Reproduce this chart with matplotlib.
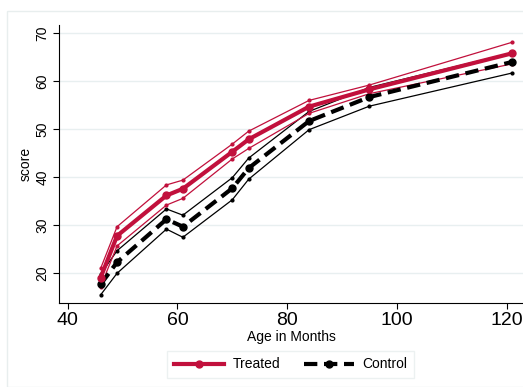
import matplotlib.pyplot as plt
from matplotlib.patches import Rectangle

plt.rcParams['font.family'] = ['Liberation Sans', 'DejaVu Sans']

# Data
age = [46, 49, 58, 61, 70, 73, 84, 95, 121]
treated = [19.1, 27.8, 36.2, 37.6, 45.3, 47.9, 54.7, 58.3, 65.8]
treated_hi = [21.0, 29.7, 38.4, 39.4, 46.9, 49.6, 56.0, 59.2, 68.1]
treated_lo = [17.2, 25.7, 34.2, 35.6, 43.8, 46.0, 53.3, 57.4, 63.6]
control = [17.7, 22.3, 31.25, 29.7, 37.7, 41.9, 51.7, 56.7, 64.0]
control_hi = [19.8, 24.7, 33.4, 32.1, 39.9, 44.0, 53.7, 58.7, 65.9]
control_lo = [15.5, 20.0, 29.2, 27.5, 35.3, 39.6, 49.9, 54.8, 61.7]

red = '#c1103c'

fig = plt.figure(figsize=(5.23, 3.87), dpi=100)
# light outer frame
fig.patches.append(Rectangle((7/523, 0), 1, 1 - 11/387, transform=fig.transFigure,
                             fill=False, edgecolor='#e8eeee', linewidth=1))

ax = fig.add_axes([59.3/523, 1 - 303.3/387, 1 - 59.3/523, (303.3 - 25)/387])

# CI lines
ax.plot(age, treated_hi, '-', color=red, lw=0.9, marker='o', ms=2, zorder=3)
ax.plot(age, treated_lo, '-', color=red, lw=0.9, marker='o', ms=2, zorder=3)
ax.plot(age, control_hi, '-', color='black', lw=0.9, marker='o', ms=2, zorder=2)
ax.plot(age, control_lo, '-', color='black', lw=0.9, marker='o', ms=2, zorder=2)

# means
ax.plot(age, control, color='black', lw=3, dashes=(3.2, 1.6), marker='o', ms=5,
        label='Control', zorder=4)
ax.plot(age, treated, color=red, lw=3, marker='o', ms=5, label='Treated', zorder=5)

ax.set_xlim(38.47, 123)
ax.set_ylim(13.75, 71.7)
ax.set_xticks([40, 60, 80, 100, 120])
ax.set_yticks([20, 30, 40, 50, 60, 70])
ax.tick_params(axis='x', labelsize=14, length=4, width=0.8, pad=2)
ax.tick_params(axis='y', labelsize=10, length=4, width=0.8, labelrotation=90, pad=3)
for lab in ax.get_yticklabels():
    lab.set_va('center')
ax.grid(axis='y', color='#e8eff0', lw=1)
ax.set_axisbelow(True)
ax.spines['top'].set_visible(False)
ax.spines['right'].set_visible(False)
ax.set_xlabel('Age in Months', fontsize=10, labelpad=1)
ax.set_ylabel('score', fontsize=10, labelpad=2)

h, l = ax.get_legend_handles_labels()
leg = fig.legend(h[::-1], l[::-1], loc='center', bbox_to_anchor=(290.7/523, 1 - 364.5/387),
                 ncol=2, fontsize=10, frameon=True, fancybox=False, handlelength=3.6,
                 columnspacing=1.7, borderpad=0.5, handletextpad=0.6)
leg.get_frame().set_edgecolor('#e8eeee')
leg.get_frame().set_linewidth(1)

fig.savefig('out.png', dpi=100)
